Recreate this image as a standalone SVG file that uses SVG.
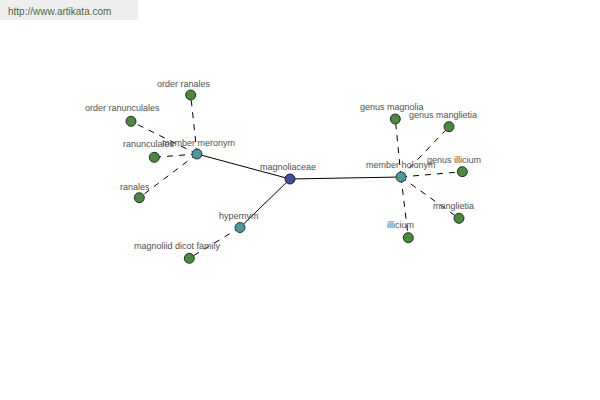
<svg xmlns="http://www.w3.org/2000/svg" width="600" height="400" viewBox="0 0 600 400">
<style>
text{font-family:"Liberation Sans",Arial,sans-serif;font-size:9px;fill:#505050}
.hdr{font-size:10px;fill:#4f6a3f}
.solid{stroke:#000;stroke-width:1;fill:none}
.dash{stroke:#000;stroke-width:1;fill:none;stroke-dasharray:6,6}
.leaf{fill:#4b8a3c;stroke:#1c3318;stroke-width:1}
.hub{fill:#4a9a9c;stroke:#1f3a3a;stroke-width:1}
.root{fill:#464a9c;stroke:#1a1a3a;stroke-width:1}
</style>
<rect x="0" y="0" width="600" height="400" fill="#fff"/>
<rect x="0" y="0" width="138" height="20" fill="#eeeeee"/>
<text class="hdr" x="8" y="15">http://www.artikata.com</text>
<g id="connectors">
<line class="solid" x1="197" y1="154" x2="290" y2="179"/>
<line class="solid" x1="290" y1="179" x2="401" y2="177"/>
<line class="solid" x1="290" y1="179" x2="240" y2="227.5"/>
<line class="dash" x1="240" y1="227.5" x2="189.3" y2="258.3"/>
<line class="dash" x1="197" y1="154" x2="190.7" y2="95"/>
<line class="dash" x1="197" y1="154" x2="131" y2="121.3"/>
<line class="dash" x1="197" y1="154" x2="154.3" y2="157.3"/>
<line class="dash" x1="197" y1="154" x2="139.3" y2="197.7"/>
<line class="dash" x1="401" y1="177" x2="395.3" y2="119"/>
<line class="dash" x1="401" y1="177" x2="449" y2="126.7"/>
<line class="dash" x1="401" y1="177" x2="462.3" y2="171.7"/>
<line class="dash" x1="401" y1="177" x2="459" y2="218.3"/>
<line class="dash" x1="401" y1="177" x2="408.3" y2="237.7"/>
</g>
<g id="order-ranales"><circle class="leaf" cx="190.7" cy="95" r="5"/><text x="157" y="87">order ranales</text></g>
<g id="order-ranunculales"><circle class="leaf" cx="131" cy="121.3" r="5"/><text x="85" y="111">order ranunculales</text></g>
<g id="ranunculales"><circle class="leaf" cx="154.3" cy="157.3" r="5"/><text x="123" y="147">ranunculales</text></g>
<g id="ranales"><circle class="leaf" cx="139.3" cy="197.7" r="5"/><text x="120" y="190">ranales</text></g>
<g id="member-meronym"><circle class="hub" cx="197" cy="154" r="5"/><text x="162" y="146">member meronym</text></g>
<g id="magnoliaceae"><circle class="root" cx="290" cy="179" r="5"/><text x="260" y="170">magnoliaceae</text></g>
<g id="hypernym"><circle class="hub" cx="240" cy="227.5" r="5"/><text x="219" y="219">hypernym</text></g>
<g id="magnoliid-dicot-family"><circle class="leaf" cx="189.3" cy="258.3" r="5"/><text x="134" y="249">magnoliid dicot family</text></g>
<g id="member-holonym"><circle class="hub" cx="401" cy="177" r="5"/><text x="366" y="168">member holonym</text></g>
<g id="genus-magnolia"><circle class="leaf" cx="395.3" cy="119" r="5"/><text x="360" y="110">genus magnolia</text></g>
<g id="genus-manglietia"><circle class="leaf" cx="449" cy="126.7" r="5"/><text x="409" y="118">genus manglietia</text></g>
<g id="genus-illicium"><circle class="leaf" cx="462.3" cy="171.7" r="5"/><text x="427" y="163">genus illicium</text></g>
<g id="manglietia"><circle class="leaf" cx="459" cy="218.3" r="5"/><text x="433" y="209">manglietia</text></g>
<g id="illicium"><circle class="leaf" cx="408.3" cy="237.7" r="5"/><text x="387" y="228">illicium</text></g>
</svg>
